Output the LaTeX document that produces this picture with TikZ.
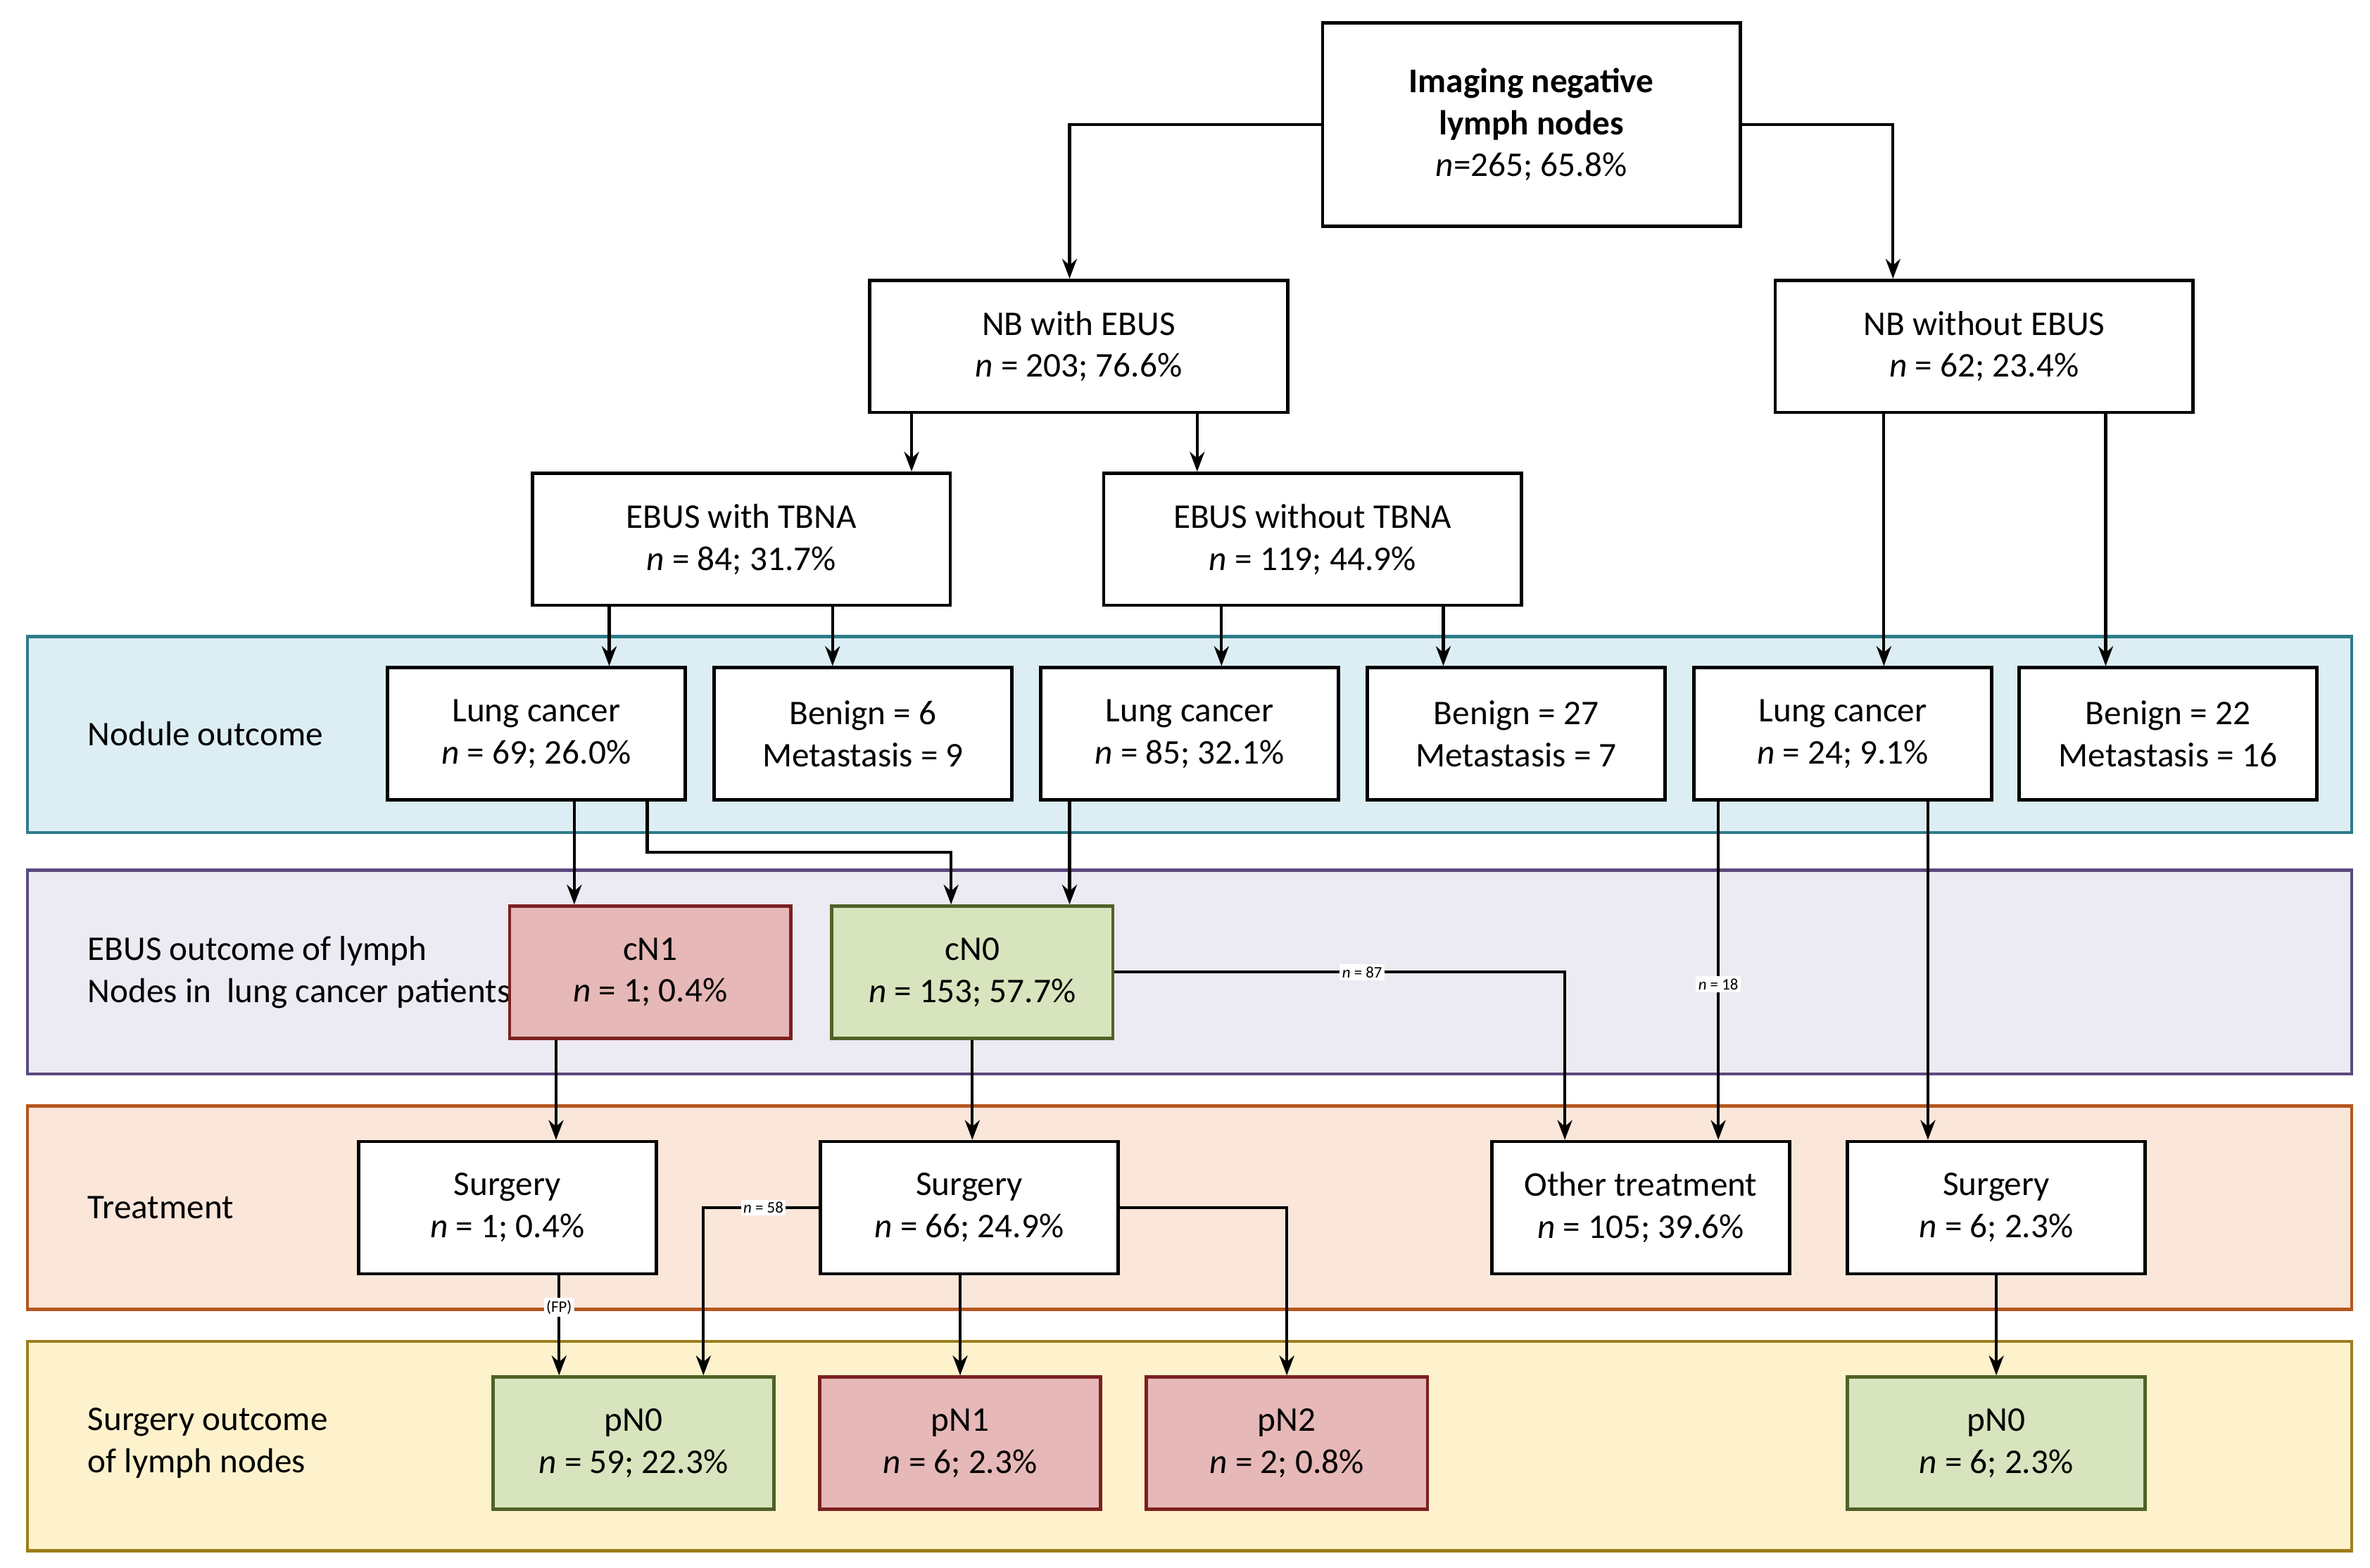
\documentclass[tikz,border=0pt]{standalone}
\usepackage{fontspec}
\setmainfont{Carlito}
\usetikzlibrary{arrows.meta}
\definecolor{b1f}{HTML}{DCEEF3}\definecolor{b1d}{HTML}{2E7C8A}
\definecolor{b2f}{HTML}{ECEAF2}\definecolor{b2d}{HTML}{5B4A7E}
\definecolor{b3f}{HTML}{FBE6DA}\definecolor{b3d}{HTML}{B5561E}
\definecolor{b4f}{HTML}{FEF2CC}\definecolor{b4d}{HTML}{9C7E1C}
\definecolor{rf}{HTML}{E6B8B7}\definecolor{rd}{HTML}{7B2020}
\definecolor{gf}{HTML}{D7E4BD}\definecolor{gd}{HTML}{4F6228}
\begin{document}
\begin{tikzpicture}[x=0.02158cm,y=-0.02158cm,
 every node/.style={font=\fontsize{14}{17}\selectfont},
 box/.style={draw,line width=1.3pt,fill=white,minimum width=196*0.02158cm,minimum height=87*0.02158cm,align=center,inner sep=0pt},
 wide/.style={box,minimum width=275*0.02158cm},
 mid/.style={box,minimum width=185*0.02158cm},
 red/.style={mid,fill=rf,draw=rd},
 grn/.style={mid,fill=gf,draw=gd},
 band/.style={line width=1.3pt},
 lab/.style={anchor=west,align=left},
 sm/.style={fill=white,inner sep=1pt,font=\fontsize{6.5}{7}\selectfont},
 ar/.style={line width=1.2pt,-{Stealth[length=8pt,width=6pt]}}]
\useasboundingbox (0,0) rectangle (1560,1032);
\fill[white] (0,0) rectangle (1560,1032);
\draw[band,fill=b1f,draw=b1d] (18,419) rectangle (1548,548);
\draw[band,fill=b2f,draw=b2d] (18,573) rectangle (1548,707);
\draw[band,fill=b3f,draw=b3d] (18,728) rectangle (1548,862);
\draw[band,fill=b4f,draw=b4d] (18,883) rectangle (1548,1021);
\node[lab] (l1) at (52,483) {Nodule outcome};
\node[lab] (l2) at (52,640) {EBUS outcome of lymph\\Nodes in\ \ lung cancer patients};
\node[lab] (l3) at (52,795) {Treatment};
\node[lab] (l4) at (52,950) {Surgery outcome\\of lymph nodes};

\node[wide,minimum height=134*0.02158cm] (img) at (1008,82) {\textbf{Imaging negative}\\\textbf{lymph nodes}\\\textit{n}=265; 65.8\%};
\node[wide] (nbw) at (710,228) {NB with EBUS\\\textit{n} = 203; 76.6\%};
\node[wide] (nbo) at (1306,228) {NB without EBUS\\\textit{n} = 62; 23.4\%};
\node[wide] (ewt) at (488,355) {EBUS with TBNA\\\textit{n} = 84; 31.7\%};
\node[wide] (eot) at (864,355) {EBUS without TBNA\\\textit{n} = 119; 44.9\%};
\node[box] (lc1) at (353,483) {Lung cancer\\\textit{n} = 69; 26.0\%};
\node[box] (bn1) at (568,483) {Benign = 6\\Metastasis = 9};
\node[box] (lc2) at (783,483) {Lung cancer\\\textit{n} = 85; 32.1\%};
\node[box] (bn2) at (998,483) {Benign = 27\\Metastasis = 7};
\node[box] (lc3) at (1213,483) {Lung cancer\\\textit{n} = 24; 9.1\%};
\node[box] (bn3) at (1427,483) {Benign = 22\\Metastasis = 16};
\node[red] (cn1) at (428,640) {cN1\\\textit{n} = 1; 0.4\%};
\node[grn] (cn0) at (640,640) {cN0\\\textit{n} = 153; 57.7\%};
\node[box] (s1) at (334,795) {Surgery\\\textit{n} = 1; 0.4\%};
\node[box] (s2) at (638,795) {Surgery\\\textit{n} = 66; 24.9\%};
\node[box] (ot) at (1080,795) {Other treatment\\\textit{n} = 105; 39.6\%};
\node[box] (s3) at (1314,795) {Surgery\\\textit{n} = 6; 2.3\%};
\node[grn] (p0) at (417,950) {pN0\\\textit{n} = 59; 22.3\%};
\node[red] (p1) at (632,950) {pN1\\\textit{n} = 6; 2.3\%};
\node[red] (p2) at (847,950) {pN2\\\textit{n} = 2; 0.8\%};
\node[box,fill=gf,draw=gd] (p0b) at (1314,950) {pN0\\\textit{n} = 6; 2.3\%};

\draw[ar] (img.west) -| (nbw.north -| 704,0);
\draw[ar] (img.east) -| (nbo.north -| 1246,0);
\draw[ar] (nbw.south -| 600,0) -- (ewt.north -| 600,0);
\draw[ar] (nbw.south -| 788,0) -- (eot.north -| 788,0);
\draw[ar] (nbo.south -| 1240,0) -- (lc3.north -| 1240,0);
\draw[ar] (nbo.south -| 1386,0) -- (bn3.north -| 1386,0);
\draw[ar] (ewt.south -| 401,0) -- (lc1.north -| 401,0);
\draw[ar] (ewt.south -| 548,0) -- (bn1.north -| 548,0);
\draw[ar] (eot.south -| 804,0) -- (lc2.north -| 804,0);
\draw[ar] (eot.south -| 950,0) -- (bn2.north -| 950,0);
\draw[ar] (lc1.south -| 378,0) -- (cn1.north -| 378,0);
\draw[ar] (lc1.south -| 426,0) -- (426,561) -| (cn0.north -| 626,0);
\draw[ar] (lc2.south -| 704,0) -- (cn0.north -| 704,0);
\draw[ar] (cn1.south -| 366,0) -- (s1.north -| 366,0);
\draw[ar] (cn0.south) -- (s2.north -| 640,0);
\draw[ar] (cn0.east) -- node[sm,pos=0.55]{\textit{n} = 87} (1030,640) -- (ot.north -| 1030,0);
\draw[ar] (lc3.south -| 1131,0) -- node[sm,pos=0.54]{\textit{n} = 18} (ot.north -| 1131,0);
\draw[ar] (lc3.south -| 1269,0) -- (s3.north -| 1269,0);
\draw[ar] (s1.south -| 368,0) -- node[sm,pos=0.32]{(FP)} (p0.north -| 368,0);
\draw[ar] (s2.west) -- node[sm,pos=0.48]{\textit{n} = 58} (463,795) -- (p0.north -| 463,0);
\draw[ar] (s2.south -| 632,0) -- (p1.north);
\draw[ar] (s2.east) -| (p2.north);
\draw[ar] (s3.south) -- (p0b.north);
\end{tikzpicture}
\end{document}
